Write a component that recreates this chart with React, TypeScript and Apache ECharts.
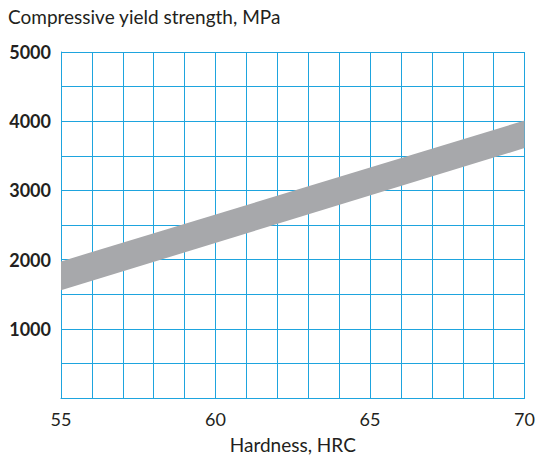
import React, { useEffect, useRef } from "react";
import * as echarts from "echarts";

const hardness = [55, 70];
const lowerBound = [1556, 3612];
const upperBound = [1974, 4010];
const xTickLabels = [55, 60, 65, 70];
const yTickLabels = [1000, 2000, 3000, 4000, 5000];

const FONT = "Lato, 'Open Sans', sans-serif";
const GRID_BLUE = "#1ea4de";

export default function App() {
  const ref = useRef<HTMLDivElement>(null);
  useEffect(() => {
    document.body.style.margin = "0";
    document.body.style.overflow = "hidden";
    const chart = echarts.init(ref.current!, null, { renderer: "svg" });
    chart.setOption({
      animation: false,
      backgroundColor: "#ffffff",
      title: {
        text: "Compressive yield strength, MPa",
        left: 3,
        top: 2,
        textStyle: { fontFamily: FONT, fontSize: 19, fontWeight: "normal", color: "#231f20" },
      },
      grid: { left: 61, right: 7, top: 52, bottom: 60 },
      xAxis: {
        type: "value",
        min: 55,
        max: 70,
        interval: 1,
        name: "Hardness, HRC",
        nameLocation: "middle",
        nameGap: 37,
        nameTextStyle: { fontFamily: FONT, fontSize: 19, color: "#231f20" },
        axisLine: { show: true, lineStyle: { color: GRID_BLUE, width: 1 } },
        axisTick: { show: false },
        axisLabel: {
          margin: 12,
          fontFamily: FONT,
          fontSize: 18,
          color: "#231f20",
          formatter: (v: number) => (xTickLabels.includes(v) ? String(v) : ""),
        },
        splitLine: { show: true, lineStyle: { color: GRID_BLUE, width: 1 } },
      },
      yAxis: {
        type: "value",
        min: 0,
        max: 5000,
        interval: 500,
        axisLine: { show: true, lineStyle: { color: GRID_BLUE, width: 1 } },
        axisTick: { show: false },
        axisLabel: {
          margin: 10,
          fontFamily: FONT,
          fontSize: 18,
          fontWeight: "bold",
          color: "#231f20",
          formatter: (v: number) => (yTickLabels.includes(v) ? String(v) : ""),
        },
        splitLine: { show: true, lineStyle: { color: GRID_BLUE, width: 1 } },
      },
      series: [
        {
          type: "custom",
          data: [0],
          renderItem: (_params: any, api: any) => {
            const pts: number[][] = [];
            for (let i = 0; i < hardness.length; i++) pts.push(api.coord([hardness[i], upperBound[i]]));
            for (let i = hardness.length - 1; i >= 0; i--) pts.push(api.coord([hardness[i], lowerBound[i]]));
            return {
              type: "polygon",
              shape: { points: pts },
              style: { fill: "#a7a8ab", stroke: "none" },
            };
          },
        },
      ],
    });
    return () => chart.dispose();
  }, []);
  return <div ref={ref} style={{ width: 538, height: 459 }} />;
}
